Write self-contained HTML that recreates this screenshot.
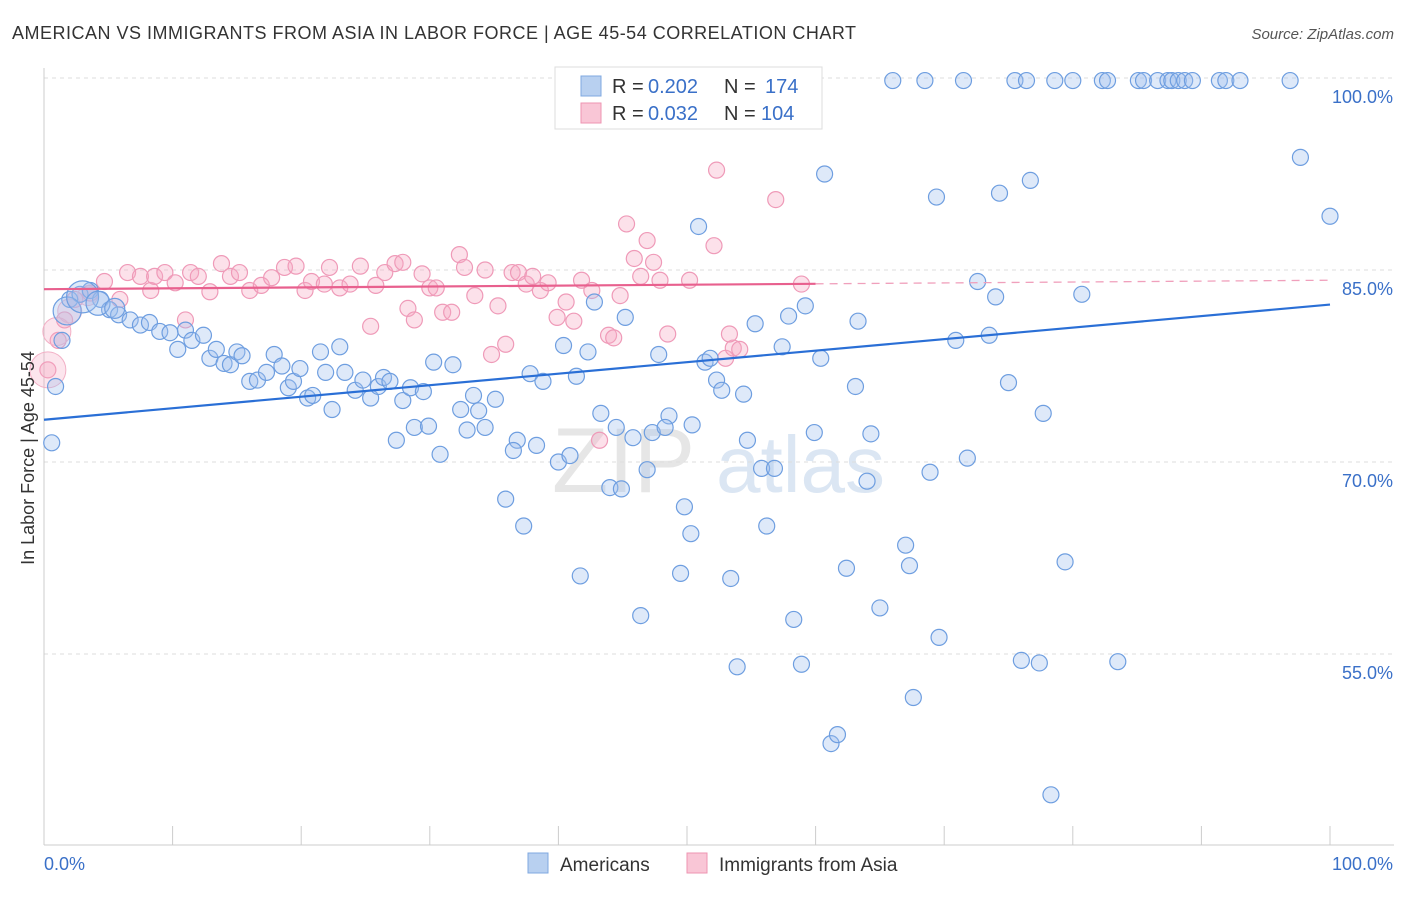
<!DOCTYPE html>
<html><head><meta charset="utf-8"><style>
body{margin:0;background:#fff;font-family:"Liberation Sans",sans-serif}
svg text{font-family:"Liberation Sans",sans-serif}
</style></head><body>
<svg id="chart" width="1406" height="892" viewBox="0 0 1406 892" xmlns="http://www.w3.org/2000/svg">
<text x="12" y="39" font-size="18" fill="#333" textLength="844" lengthAdjust="spacing">AMERICAN VS IMMIGRANTS FROM ASIA IN LABOR FORCE | AGE 45-54 CORRELATION CHART</text>
<text x="1394" y="39" font-size="15" fill="#555" text-anchor="end" font-style="italic">Source: ZipAtlas.com</text>
<text x="552" y="492" font-size="92" fill="#e6e6e6" font-family="Liberation Serif">ZIP</text>
<text x="716" y="492" font-size="80" fill="#dbe6f3">atlas</text>
<g id="grid"></g>
<g id="axes"></g>
<g id="pink"></g>
<g id="blue"></g>
<g id="lines"></g>
<text transform="translate(34,458) rotate(-90)" font-size="18" fill="#333" text-anchor="middle">In Labor Force | Age 45-54</text>
<g>
<rect x="555" y="67" width="267" height="62" fill="#fff" stroke="#ddd"/>
<rect x="581" y="76" width="20" height="20" fill="#b8d0f0" stroke="#7fa8e0"/>
<rect x="581" y="103" width="20" height="20" fill="#f9c6d6" stroke="#ee94b2"/>
<text x="612" y="93" font-size="20" fill="#333">R =</text>
<text x="648" y="93" font-size="20" fill="#3a70c8">0.202</text>
<text x="724" y="93" font-size="20" fill="#333">N =</text>
<text x="765" y="93" font-size="20" fill="#3a70c8">174</text>
<text x="612" y="120" font-size="20" fill="#333">R =</text>
<text x="648" y="120" font-size="20" fill="#3a70c8">0.032</text>
<text x="724" y="120" font-size="20" fill="#333">N =</text>
<text x="761" y="120" font-size="20" fill="#3a70c8">104</text>
</g>
<g>
<rect x="528" y="853" width="20" height="20" fill="#b8d0f0" stroke="#7fa8e0"/>
<text x="560" y="871" font-size="19" fill="#333">Americans</text>
<rect x="687" y="853" width="20" height="20" fill="#f9c6d6" stroke="#ee94b2"/>
<text x="719" y="871" font-size="19" fill="#333">Immigrants from Asia</text>
</g>
</svg>
<script>
const yTicks=[55,70,85,100];
const yTickLabels=["55.0%","70.0%","85.0%","100.0%"];
const xTickLabels=["0.0%","100.0%"];
const blueTrend=[73.3,82.3];
const pinkTrend=[83.5,84.2];
const blueX=[66.0,68.5,71.5,75.5,76.4,78.6,80.0,82.3,82.7,85.1,85.5,86.6,87.4,87.7,88.2,88.7,89.3,91.4,91.9,93.0,96.9,
97.7,100,60.7,69.4,74.3,76.7,50.9,72.6,74.0,80.7,59.2,57.9,63.3,55.3,45.2,42.8,70.9,73.5,57.4,60.4,47.8,51.4,51.8,40.4,42.3,52.3,52.7,54.4,63.1,75.0,77.7,37.8,38.8,41.4,43.3,44.5,45.8,47.3,48.6,48.3,50.4,54.7,59.9,64.3,71.8,68.9,55.8,56.8,64.0,46.9,44.0,44.9,40.0,40.9,36.8,38.3,36.5,35.9,37.3,49.8,50.3,56.2,67.0,67.3,62.4,79.4,41.7,49.5,53.4,46.4,58.3,65.0,69.6,53.9,58.9,76.0,77.4,83.5,67.6,61.2,61.7,78.3,
0.6,0.9,1.4,2.0,2.8,3.6,4.4,5.1,5.8,6.7,7.5,8.2,9.0,9.8,10.4,11.0,11.5,12.4,12.9,13.4,14.0,14.5,15.0,15.4,16.0,16.6,17.3,17.9,18.5,19.0,19.4,19.9,20.5,20.9,21.5,21.9,22.4,23.0,23.4,24.2,24.8,25.4,26.0,26.4,26.9,27.4,27.9,28.5,28.8,29.5,29.9,30.3,30.8,31.8,32.4,32.9,33.4,33.8,34.3,35.1];
const blueY=[99.8,99.8,99.8,99.8,99.8,99.8,99.8,99.8,99.8,99.8,99.8,99.8,99.8,99.8,99.8,99.8,99.8,99.8,99.8,99.8,99.8,
93.8,89.2,92.5,90.7,91.0,92.0,88.4,84.1,82.9,83.1,82.2,81.4,81.0,80.8,81.3,82.5,79.5,79.9,79.0,78.1,78.4,77.8,78.1,79.1,78.6,76.4,75.6,75.3,75.9,76.2,73.8,76.9,76.3,76.7,73.8,72.7,71.9,72.3,73.6,72.7,72.9,71.7,72.3,72.2,70.3,69.2,69.5,69.5,68.5,69.4,68.0,67.9,70.0,70.5,71.7,71.3,70.9,67.1,65.0,66.5,64.4,65.0,63.5,61.9,61.7,62.2,61.1,61.3,60.9,58.0,57.7,58.6,56.3,54.0,54.2,54.5,54.3,54.4,51.6,48.0,48.7,44.0,
71.5,75.9,79.5,82.7,83.1,83.4,82.7,81.9,81.5,81.1,80.7,80.9,80.2,80.1,78.8,80.3,79.5,79.9,78.1,78.8,77.7,77.6,78.6,78.3,76.3,76.4,77.0,78.4,77.5,75.8,76.3,77.3,75.0,75.2,78.6,77.0,74.1,79.0,77.0,75.6,76.4,75.0,75.9,76.6,76.3,71.7,74.8,75.8,72.7,75.5,72.8,77.8,70.6,77.6,74.1,72.5,75.2,74.0,72.7,74.9];
const blueBig=[[1.8,81.8,14],[3.0,82.9,16],[4.2,82.4,12],[5.5,82.0,10]];
const pinkX=[0.3,1.1,1.6,2.4,3.6,4.7,5.9,6.5,7.5,8.3,8.6,9.4,10.2,11.0,11.4,12.0,12.9,13.8,14.5,15.2,16.0,16.9,17.7,18.7,19.6,20.3,20.8,21.8,22.2,23.0,23.8,24.6,25.4,25.8,26.5,27.3,27.9,28.3,28.8,29.4,30.0,30.5,31.0,31.7,32.3,32.7,33.5,34.3,34.8,35.3,35.9,36.4,36.9,37.5,38.0,38.6,39.2,39.9,40.6,41.2,41.8,42.6,43.2,43.9,44.3,44.8,45.3,45.9,46.4,46.9,47.4,47.9,48.5,50.2,52.1,52.3,53.0,53.6,54.1,53.3,56.9,58.9];
const pinkY=[77.2,79.5,81.1,82.7,83.2,84.1,82.7,84.8,84.5,83.4,84.5,84.8,84.0,81.1,84.8,84.5,83.3,85.5,84.5,84.8,83.4,83.8,84.4,85.2,85.3,83.4,84.1,83.9,85.2,83.6,83.9,85.3,80.6,83.8,84.8,85.5,85.6,82.0,81.1,84.7,83.6,83.6,81.7,81.7,86.2,85.2,83.0,85.0,78.4,82.2,79.2,84.8,84.8,83.9,84.5,83.4,84.0,81.3,82.5,81.0,84.2,83.4,71.7,79.9,79.7,83.0,88.6,85.9,84.5,87.3,85.6,84.2,80.0,84.2,86.9,92.8,78.1,78.9,78.8,80.0,90.5,83.9];
const pinkBig=[[0.3,77.2,18],[1.0,80.2,14],[2.0,81.8,12],[3.4,83.0,10]];

const NS="http://www.w3.org/2000/svg";
const X=v=>44+v*12.86;
const Y=v=>78+(100-v)*12.8;
function mk(tag,attrs,parent){const e=document.createElementNS(NS,tag);for(const k in attrs)e.setAttribute(k,attrs[k]);parent.appendChild(e);return e;}
const grid=document.getElementById('grid'),axes=document.getElementById('axes');
yTicks.forEach((t,i)=>{
 const l=mk('line',{x1:44,x2:1394,y1:Y(t),y2:Y(t),stroke:'#ddd','stroke-dasharray':'4,4'},grid);
 
 
 const tx=mk('text',{x:1393,y:Y(t)+25,'font-size':18,fill:'#3a70c8','text-anchor':'end'},axes);
 tx.textContent=yTickLabels[i];
 
 
});
mk('line',{x1:44,x2:44,y1:68,y2:845,stroke:'#ccc'},axes);
mk('line',{x1:44,x2:1394,y1:845,y2:845,stroke:'#ccc'},axes);
for(let i=0;i<=10;i++){const tk=mk('line',{x1:X(i*10),x2:X(i*10),y1:826,y2:845,stroke:'#ccc'},axes);
 
 }
const xl0=mk('text',{x:44,y:870,'font-size':18,fill:'#3a70c8'},axes);xl0.textContent=xTickLabels[0];


const xl1=mk('text',{x:1393,y:870,'font-size':18,fill:'#3a70c8','text-anchor':'end'},axes);xl1.textContent=xTickLabels[1];


const pg=document.getElementById('pink'),bg=document.getElementById('blue');
pinkX.forEach((x,i)=>{const c=mk('circle',{cx:X(x),cy:Y(pinkY[i]),r:8,fill:'rgba(246,170,196,0.35)',stroke:'#ef9ab8','stroke-width':1.2},pg);
 
 });
pinkBig.forEach(p=>{const c=mk('circle',{cx:X(p[0]),cy:Y(p[1]),r:p[2],fill:'rgba(246,170,196,0.3)',stroke:'#f2b0c6','stroke-width':1},pg);
 
 });
blueX.forEach((x,i)=>{const c=mk('circle',{cx:X(x),cy:Y(blueY[i]),r:8,fill:'rgba(160,192,238,0.35)',stroke:'#6e9ee0','stroke-width':1.2},bg);
 
 });
blueBig.forEach(p=>{const c=mk('circle',{cx:X(p[0]),cy:Y(p[1]),r:p[2],fill:'rgba(160,192,238,0.35)',stroke:'#6e9ee0','stroke-width':1.2},bg);
 
 });
const lg=document.getElementById('lines');
const bl=mk('line',{x1:X(0),y1:Y(blueTrend[0]),x2:X(100),y2:Y(blueTrend[1]),stroke:'#2a6fd6','stroke-width':2.2},lg);


const pm=pinkTrend[0]+(pinkTrend[1]-pinkTrend[0])*0.6;
const pl=mk('line',{x1:X(0),y1:Y(pinkTrend[0]),x2:X(60),y2:Y(pm),stroke:'#e8608e','stroke-width':2.2},lg);


const pd=mk('line',{x1:X(60),y1:Y(pm),x2:X(100),y2:Y(pinkTrend[1]),stroke:'#f0a0bc','stroke-width':1.3,'stroke-dasharray':'8,6'},lg);


</script>
</body></html>
